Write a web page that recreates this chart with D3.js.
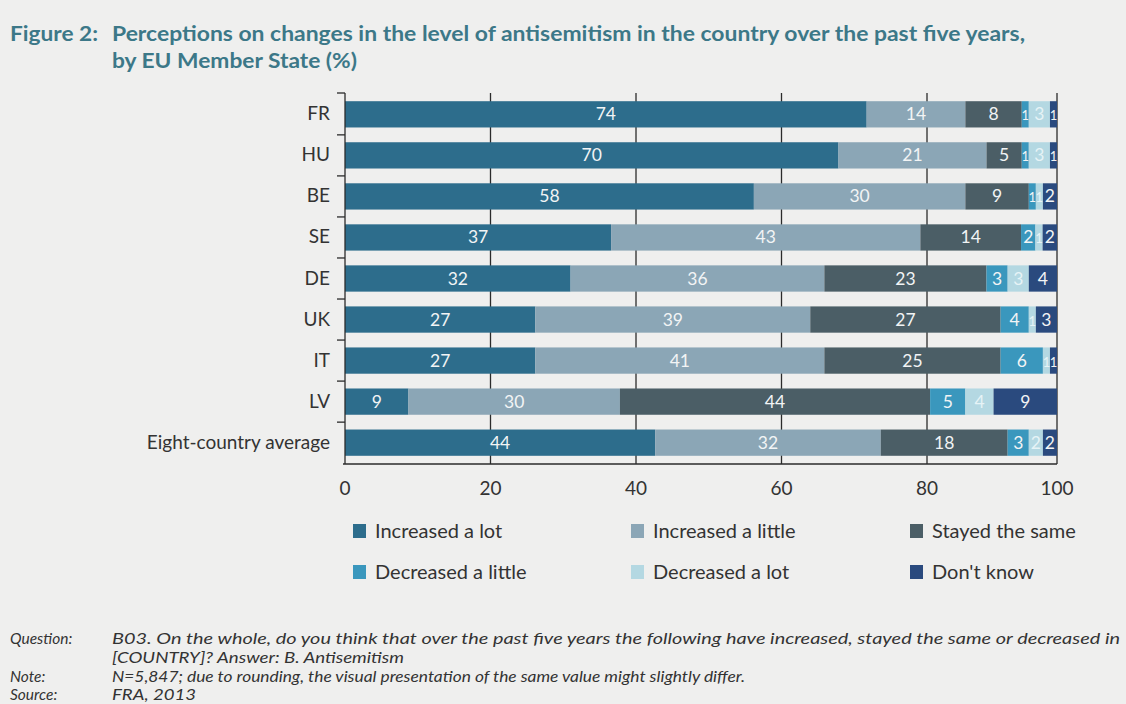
<!DOCTYPE html>
<html>
<head>
<meta charset="utf-8">
<script src="https://cdn.jsdelivr.net/npm/d3@7"></script>
<style>
  html, body { margin: 0; padding: 0; background: #efefee; }
  svg { display: block; }
</style>
</head>
<body>
<svg id="chart" width="1126" height="704"></svg>
<script>
// values (rows sum to 99-101 because of rounding)
const categories = ["FR", "HU", "BE", "SE", "DE", "UK", "IT", "LV", "Eight-country average"];
const seriesNames = ["Increased a lot", "Increased a little", "Stayed the same", "Decreased a little", "Decreased a lot", "Don't know"];
const increasedLot    = [74, 70, 58, 37, 32, 27, 27, 9, 44];
const increasedLittle = [14, 21, 30, 43, 36, 39, 41, 30, 32];
const stayedSame      = [8, 5, 9, 14, 23, 27, 25, 44, 18];
const decreasedLittle = [1, 1, 1, 2, 3, 4, 6, 5, 3];
const decreasedLot    = [3, 3, 1, 1, 3, 1, 1, 4, 2];
const dontKnow        = [1, 1, 2, 2, 4, 3, 1, 9, 2];
const xTicks = [0, 20, 40, 60, 80, 100];

const colors = ["#2d6d8c", "#8ba6b6", "#4b5e66", "#3a97bd", "#b4d8e2", "#2a4a7e"];
const allSeries = [increasedLot, increasedLittle, stayedSame, decreasedLittle, decreasedLot, dontKnow];

const svg = d3.select("#chart");
const font = "Lato, 'Open Sans', sans-serif";

// title
const title = svg.append("g").attr("font-family", font).attr("font-weight", 700)
  .attr("fill", "#3c7888").attr("font-size", 20);
title.append("text").attr("x", 10).attr("y", 41)
  .attr("textLength", 88).attr("lengthAdjust", "spacingAndGlyphs").text("Figure 2:");
title.append("text").attr("x", 112).attr("y", 41)
  .attr("textLength", 913).attr("lengthAdjust", "spacingAndGlyphs")
  .text("Perceptions on changes in the level of antisemitism in the country over the past five years,");
title.append("text").attr("x", 112).attr("y", 68)
  .attr("textLength", 245).attr("lengthAdjust", "spacingAndGlyphs")
  .text("by EU Member State (%)");

// scales
const x = d3.scaleLinear().domain([0, 100]).range([345, 1057]);
// the printed grid is not evenly spaced, so the axis gets its own piecewise scale
const gx = d3.scaleLinear().domain([0, 80, 100]).range([345, 927, 1057]);
const y = d3.scaleBand().domain(categories).range([93, 464]).paddingInner(0.36).paddingOuter(0.2);

// build rows of segments
let rows = categories.map(function (c, i) {
  let total = d3.sum(allSeries, s => s[i]);
  let cum = 0;
  return allSeries.map(function (s, k) {
    let seg = { cat: c, key: k, value: s[i], x0: cum / total * 100, x1: (cum + s[i]) / total * 100 };
    cum += s[i];
    return seg;
  });
});
let segments = rows.flat();

// grid lines
svg.append("g").selectAll("line")
  .data(xTicks.slice(1))
  .enter().append("line")
  .attr("x1", d => gx(d)).attr("x2", d => gx(d))
  .attr("y1", 93).attr("y2", 464)
  .attr("stroke", "#2b2b2b").attr("stroke-width", 1.3);

// bars
svg.append("g").selectAll("rect")
  .data(segments)
  .enter().append("rect")
  .attr("x", d => x(d.x0))
  .attr("y", d => y(d.cat))
  .attr("width", d => x(d.x1) - x(d.x0))
  .attr("height", y.bandwidth())
  .attr("fill", d => colors[d.key]);

// value labels (tiny 1% slices get a narrower label, as in the print)
svg.append("g").attr("font-family", font).attr("text-anchor", "middle")
  .selectAll("text")
  .data(segments.filter(d => d.value > 0))
  .enter().append("text")
  .attr("x", d => (x(d.x0) + x(d.x1)) / 2)
  .attr("y", d => y(d.cat) + y.bandwidth() / 2 + 6)
  .attr("font-size", d => d.value <= 1 ? 13 : 17.5)
  .attr("fill", d => d.key == 4 ? "#e6f3f6" : "#f2f4f5")
  .text(d => d.value);

// left axis with ticks between categories
let axisG = svg.append("g").attr("stroke", "#2b2b2b").attr("stroke-width", 1.3);
axisG.append("line").attr("x1", x(0)).attr("x2", x(0)).attr("y1", 93).attr("y2", 464);
axisG.append("line").attr("x1", x(0) - 2).attr("x2", x(100)).attr("y1", 464).attr("y2", 464);
let bounds = categories.map(c => y(c) - (y.step() - y.bandwidth()) / 2);
bounds[0] = 93;
axisG.selectAll(".tk").data(bounds).enter().append("line")
  .attr("x1", x(0) - 8).attr("x2", x(0)).attr("y1", d => d).attr("y2", d => d);

// category labels
svg.append("g").attr("font-family", font).attr("font-size", 19).attr("fill", "#333")
  .attr("text-anchor", "end")
  .selectAll("text").data(categories).enter().append("text")
  .attr("x", 330)
  .attr("y", d => y(d) + y.bandwidth() / 2 + 6)
  .text(d => d);

// x tick labels
svg.append("g").attr("font-family", font).attr("font-size", 19).attr("fill", "#333")
  .attr("text-anchor", "middle")
  .selectAll("text").data(xTicks).enter().append("text")
  .attr("x", d => gx(d))
  .attr("y", 495)
  .text(d => d);

// legend
const legendX = [375, 653, 932];
const legendY = [531, 572];
let leg = svg.append("g").attr("font-family", font).attr("font-size", 20).attr("fill", "#333");
let items = leg.selectAll("g").data(seriesNames).enter().append("g")
  .attr("transform", (d, i) => "translate(" + legendX[i % 3] + "," + legendY[Math.floor(i / 3)] + ")");
items.append("rect").attr("x", -22).attr("y", -7).attr("width", 13).attr("height", 14)
  .attr("fill", (d, i) => colors[i]);
items.append("text").attr("x", 0).attr("y", 7).text(d => d);

// notes
const notes = [
  { label: "Question:", text: "B03. On the whole, do you think that over the past five years the following have increased, stayed the same or decreased in", w: 1008, y: 644 },
  { label: "", text: "[COUNTRY]? Answer: B. Antisemitism", w: 292, y: 663 },
  { label: "Note:", text: "N=5,847; due to rounding, the visual presentation of the same value might slightly differ.", w: 633, y: 682 },
  { label: "Source:", text: "FRA, 2013", w: 84, y: 700 }
];
let nt = svg.append("g").attr("font-family", font).attr("font-style", "italic")
  .attr("font-size", 15.5).attr("fill", "#333");
nt.selectAll(".lab").data(notes).enter().append("text")
  .attr("x", 10).attr("y", d => d.y).text(d => d.label);
nt.selectAll(".txt").data(notes).enter().append("text")
  .attr("x", 112).attr("y", d => d.y)
  .attr("textLength", d => d.w).attr("lengthAdjust", "spacingAndGlyphs")
  .text(d => d.text);
</script>
</body>
</html>
